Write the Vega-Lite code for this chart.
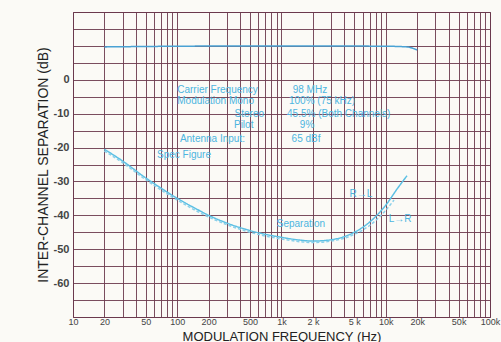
{
  "$schema": "https://vega.github.io/schema/vega-lite/v6.json",
  "width": 417,
  "height": 305,
  "autosize": {"type": "none"},
  "padding": {"left": 73, "top": 12, "right": 11, "bottom": 25},
  "background": "#fbfaf6",
  "config": {
    "view": {"stroke": "#6b3a4e", "strokeWidth": 1},
    "font": "Liberation Sans"
  },
  "datasets": {
    "curves": [
      {"series": "level", "freq": 20, "db": 9.7},
      {"series": "level", "freq": 100, "db": 9.9},
      {"series": "level", "freq": 1000, "db": 10},
      {"series": "level", "freq": 10000, "db": 9.9},
      {"series": "level", "freq": 16000, "db": 9.7},
      {"series": "level", "freq": 20000, "db": 8.8},
      {"series": "R→L", "freq": 20, "db": -20.5},
      {"series": "R→L", "freq": 30, "db": -24},
      {"series": "R→L", "freq": 50, "db": -29},
      {"series": "R→L", "freq": 70, "db": -32},
      {"series": "R→L", "freq": 100, "db": -35},
      {"series": "R→L", "freq": 150, "db": -38},
      {"series": "R→L", "freq": 200, "db": -40},
      {"series": "R→L", "freq": 300, "db": -42.3},
      {"series": "R→L", "freq": 500, "db": -44.5},
      {"series": "R→L", "freq": 700, "db": -45.6},
      {"series": "R→L", "freq": 1000, "db": -46.5},
      {"series": "R→L", "freq": 1500, "db": -47.3},
      {"series": "R→L", "freq": 2000, "db": -47.6},
      {"series": "R→L", "freq": 3000, "db": -47.2},
      {"series": "R→L", "freq": 5000, "db": -45},
      {"series": "R→L", "freq": 7000, "db": -42},
      {"series": "R→L", "freq": 10000, "db": -37},
      {"series": "R→L", "freq": 13000, "db": -32},
      {"series": "R→L", "freq": 16000, "db": -28.3},
      {"series": "L→R", "freq": 20, "db": -21},
      {"series": "L→R", "freq": 30, "db": -24.5},
      {"series": "L→R", "freq": 50, "db": -29.5},
      {"series": "L→R", "freq": 100, "db": -35.5},
      {"series": "L→R", "freq": 200, "db": -40.5},
      {"series": "L→R", "freq": 500, "db": -45},
      {"series": "L→R", "freq": 1000, "db": -47},
      {"series": "L→R", "freq": 2000, "db": -48},
      {"series": "L→R", "freq": 3000, "db": -47.6},
      {"series": "L→R", "freq": 5000, "db": -45.6},
      {"series": "L→R", "freq": 7000, "db": -43},
      {"series": "L→R", "freq": 10000, "db": -38.5},
      {"series": "L→R", "freq": 12000, "db": -35.5}
    ],
    "labels": [
      {"text": "Carrier Frequency", "freq": 100, "db": -3.0},
      {"text": "Modulation  Mono", "freq": 100, "db": -6.3},
      {"text": "Stereo", "freq": 355, "db": -10.0},
      {"text": "Pilot", "freq": 350, "db": -13.3},
      {"text": "Antenna Input:", "freq": 106, "db": -17.4},
      {"text": "Spec Figure", "freq": 64, "db": -22.2},
      {"text": "98 MHz", "freq": 1280, "db": -2.9},
      {"text": "100% (75 kHz)", "freq": 1180, "db": -6.3},
      {"text": "45.5% (Both Channels)", "freq": 1130, "db": -10.0},
      {"text": "9%", "freq": 1500, "db": -13.3},
      {"text": "65 dBf", "freq": 1250, "db": -17.4},
      {"text": "Separation", "freq": 900, "db": -42.6},
      {"text": "R→L", "freq": 4500, "db": -33.7},
      {"text": "L→R", "freq": 10700, "db": -41.1}
    ]
  },
  "layer": [
    {
      "data": {"name": "curves"},
      "mark": {"type": "line", "strokeWidth": 1.5, "interpolate": "monotone"},
      "encoding": {
        "x": {
          "field": "freq", "type": "quantitative",
          "scale": {"type": "log", "domain": [10, 100000], "nice": false},
          "title": "MODULATION FREQUENCY (Hz)",
          "axis": {
            "values": [10,20,30,40,50,60,70,80,90,100,200,300,400,500,600,700,800,900,1000,2000,3000,4000,5000,6000,7000,8000,9000,10000,20000,30000,40000,50000,60000,70000,80000,90000,100000],
            "tickCount": 200,
            "labelExpr": "indexof([10,20,50,100,200,500], datum.value) >= 0 ? datum.value + '' : datum.value == 1000 ? '1k' : datum.value == 2000 ? '2 k' : datum.value == 5000 ? '5 k' : datum.value == 10000 ? '10k' : datum.value == 20000 ? '20k' : datum.value == 50000 ? '50k' : datum.value == 100000 ? '100k' : ''",
            "labelOverlap": false,
            "labelFlush": false,
            "ticks": false,
            "domain": false,
            "grid": true,
            "gridColor": "#6b3a4e",
            "gridOpacity": 0.9,
            "gridWidth": 1,
            "labelFontSize": 9,
            "labelColor": "#444",
            "labelPadding": 0,
            "titleFontSize": 13,
            "titleFontWeight": "normal",
            "titleColor": "#222",
            "titleBaseline": "alphabetic",
            "titleY": 23
          }
        },
        "y": {
          "field": "db", "type": "quantitative",
          "scale": {"domain": [-70, 20], "nice": false, "zero": false},
          "title": "INTER-CHANNEL SEPARATION (dB)",
          "axis": {
            "values": [-70,-65,-60,-55,-50,-45,-40,-35,-30,-25,-20,-15,-10,-5,0,5,10,15,20],
            "tickCount": 200,
            "labelExpr": "(datum.value <= 0 && datum.value >= -60 && datum.value % 10 == 0) ? datum.value + '' : ''",
            "labelOverlap": false,
            "ticks": false,
            "domain": false,
            "grid": true,
            "gridColor": "#6b3a4e",
            "gridOpacity": 0.9,
            "gridWidth": 1,
            "labelFontSize": 11,
            "labelFontWeight": "bold",
            "labelColor": "#444",
            "labelPadding": 4,
            "titleFontSize": 14,
            "titleFontWeight": "normal",
            "titleColor": "#222",
            "titlePadding": 3
          }
        },
        "color": {
          "field": "series", "type": "nominal",
          "scale": {"domain": ["level", "R→L", "L→R"], "range": ["#4aa2d4", "#5cc0e4", "#8ad0ea"]},
          "legend": null
        },
        "strokeDash": {
          "field": "series", "type": "nominal",
          "scale": {"domain": ["level", "R→L", "L→R"], "range": [[1, 0], [1, 0], [3, 2]]},
          "legend": null
        }
      }
    },
    {
      "data": {"name": "labels"},
      "mark": {"type": "text", "align": "left", "baseline": "middle", "fontSize": 10, "color": "#4db5e0"},
      "encoding": {
        "x": {"field": "freq", "type": "quantitative"},
        "y": {"field": "db", "type": "quantitative"},
        "text": {"field": "text"}
      }
    }
  ]
}
